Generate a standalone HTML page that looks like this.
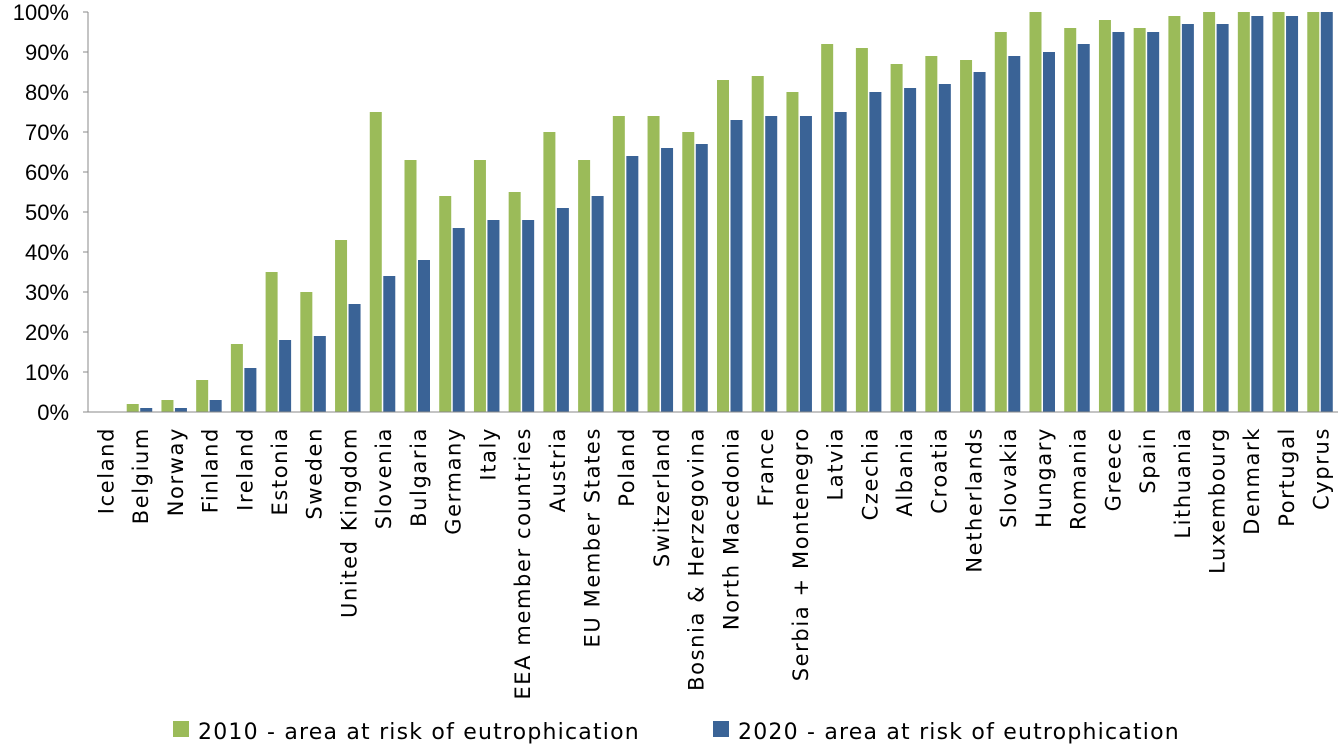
<!DOCTYPE html>
<html><head><meta charset="utf-8"><style>
html,body{margin:0;padding:0;background:#fff;}
svg{display:block;font-family:"Liberation Sans",Arial,sans-serif;}
.lab{font-family:"DejaVu Sans","Liberation Sans",sans-serif;}
</style></head><body>
<svg id="chart" width="1338" height="747" viewBox="0 0 1338 747"></svg>
<script>
const categories=["Iceland","Belgium","Norway","Finland","Ireland","Estonia","Sweden","United Kingdom","Slovenia","Bulgaria","Germany","Italy","EEA member countries","Austria","EU Member States","Poland","Switzerland","Bosnia & Herzegovina","North Macedonia","France","Serbia + Montenegro","Latvia","Czechia","Albania","Croatia","Netherlands","Slovakia","Hungary","Romania","Greece","Spain","Lithuania","Luxembourg","Denmark","Portugal","Cyprus"];
const values2010=[0,2,3,8,17,35,30,43,75,63,54,63,55,70,63,74,74,70,83,84,80,92,91,87,89,88,95,100,96,98,96,99,100,100,100,100];
const values2020=[0,1,1,3,11,18,19,27,34,38,46,48,48,51,54,64,66,67,73,74,74,75,80,81,82,85,89,90,92,95,95,97,97,99,99,100];
const yTicks=[0,10,20,30,40,50,60,70,80,90,100];
const seriesNames=["2010 - area at risk of eutrophication","2020 - area at risk of eutrophication"];

const NS="http://www.w3.org/2000/svg";
const svg=document.getElementById('chart');
const X0=88,X1=1338,Y0=412,Y1=12;
const bw=(X1-X0)/categories.length;
const y=v=>Y0-(v/100)*(Y0-Y1);
const xCat=i=>X0+i*bw;
function mk(tag,attrs,parent){const e=document.createElementNS(NS,tag);for(const k in attrs)e.setAttribute(k,attrs[k]);(parent||svg).appendChild(e);return e;}

const gy=mk('g',{});


yTicks.forEach(t=>{
  const tx=mk('text',{x:69,y:y(t)+8,'text-anchor':'end','font-size':22,fill:'#000'},gy);
  tx.textContent=t+'%';
  
  
  mk('line',{x1:83,x2:X0,y1:y(t),y2:y(t),stroke:'#888','stroke-width':1},gy);
});
mk('line',{x1:X0,x2:X0,y1:Y1,y2:Y0,stroke:'#888','stroke-width':1},gy);

const gb=mk('g',{});


categories.forEach((c,i)=>{
  const x=xCat(i);
  const r1=mk('rect',{x:x+4,y:y(values2010[i]),width:12,height:Y0-y(values2010[i]),fill:'#9BBB59'},gb);
  
  
  const r2=mk('rect',{x:x+17.5,y:y(values2020[i]),width:12,height:Y0-y(values2020[i]),fill:'#3A6396'},gb);
  
  
  const cx=x+bw/2+8;
  const t=mk('text',{x:cx,y:427,transform:`rotate(-90 ${cx} 427)`,'text-anchor':'end','font-size':21,'letter-spacing':1.6,fill:'#000',class:'lab'},gb);
  t.textContent=c;
  
  
});
mk('line',{x1:X0,x2:X1,y1:Y0,y2:Y0,stroke:'#888','stroke-width':1});

const gl=mk('g',{});


[[173,'#9BBB59'],[713,'#3A6396']].forEach((p,k)=>{
  const s=mk('rect',{x:p[0],y:721,width:16,height:16,fill:p[1]},gl);
  
  
  const t=mk('text',{x:p[0]+25,y:739,'font-size':22,'letter-spacing':1.2,fill:'#000',class:'lab'},gl);
  t.textContent=seriesNames[k];
  
  
});
</script>
</body></html>
